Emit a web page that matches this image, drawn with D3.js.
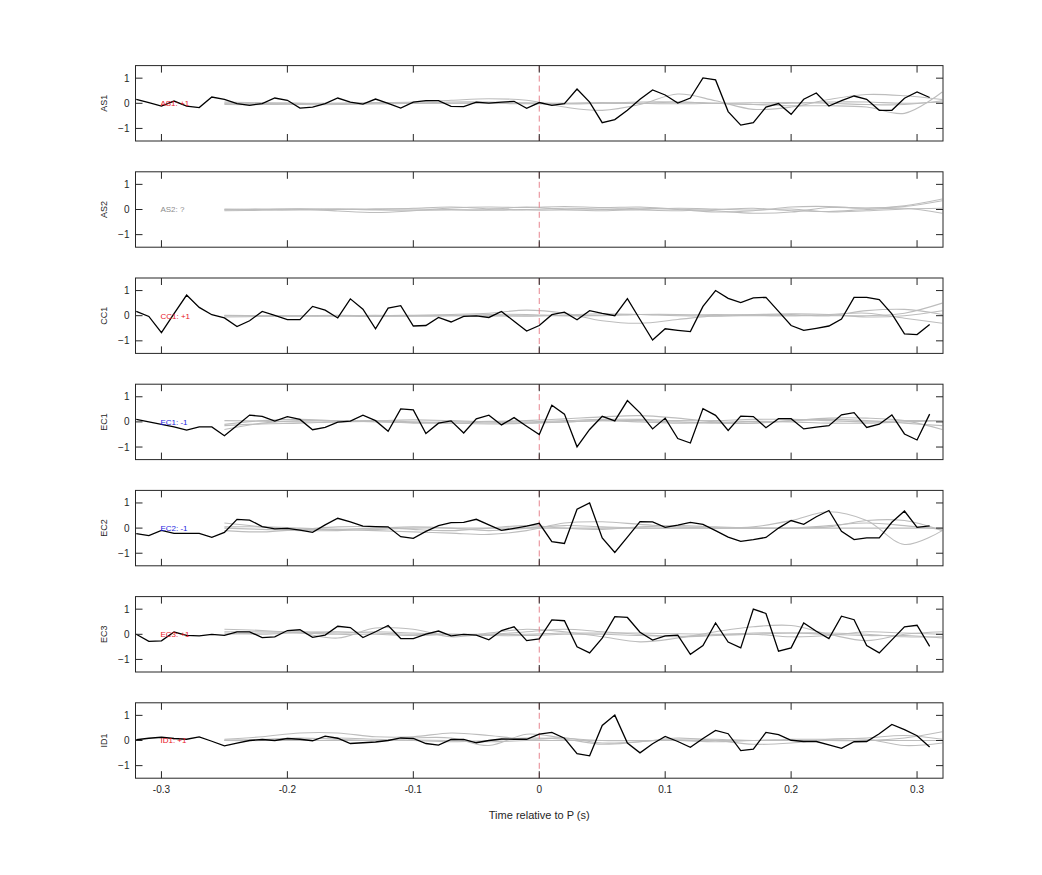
<!DOCTYPE html>
<html>
<head>
<meta charset="utf-8">
<script src="https://cdn.jsdelivr.net/npm/d3@7"></script>
<style>
  html, body { margin: 0; padding: 0; background: #fff; }
  svg { display: block; font-family: "Liberation Sans", Arial, Helvetica, sans-serif; }
</style>
</head>
<body>
<svg id="chart" width="1042" height="875"></svg>
<script>
// ---------------- DATA ----------------
const stations = ["AS1", "AS2", "CC1", "EC1", "EC2", "EC3", "ID1"];
const polarityLabels = ["AS1: +1", "AS2: ?", "CC1: +1", "EC1: -1", "EC2: -1", "EC3: +1", "ID1: +1"];
const polarityColors = ["#e8141e", "#8c8c8c", "#e8141e", "#1a1ae0", "#1a1ae0", "#e8141e", "#e8141e"];

// observed trace sample times (s) : -0.32 ... 0.31 in 0.01 steps
const obsTimes = [-0.32,-0.31,-0.30,-0.29,-0.28,-0.27,-0.26,-0.25,-0.24,-0.23,-0.22,-0.21,-0.20,-0.19,-0.18,-0.17,
  -0.16,-0.15,-0.14,-0.13,-0.12,-0.11,-0.10,-0.09,-0.08,-0.07,-0.06,-0.05,-0.04,-0.03,-0.02,-0.01,
  0.00,0.01,0.02,0.03,0.04,0.05,0.06,0.07,0.08,0.09,0.10,0.11,0.12,0.13,0.14,0.15,
  0.16,0.17,0.18,0.19,0.20,0.21,0.22,0.23,0.24,0.25,0.26,0.27,0.28,0.29,0.30,0.31];

const obsAS1 = [0.16,0.03,-0.11,0.09,-0.11,-0.17,0.25,0.16,-0.01,-0.08,-0.01,0.21,0.12,-0.19,-0.15,-0.01,
  0.21,0.05,-0.03,0.17,0.00,-0.19,0.05,0.11,0.11,-0.12,-0.13,0.05,0.01,0.05,0.08,-0.20,
  0.03,-0.08,-0.01,0.57,0.05,-0.77,-0.65,-0.28,0.16,0.53,0.33,0.01,0.21,1.01,0.93,-0.33,
  -0.87,-0.77,-0.15,-0.01,-0.44,0.16,0.41,-0.11,0.11,0.29,0.16,-0.28,-0.28,0.20,0.45,0.23];
const obsAS2 = null;
const obsCC1 = [0.17,-0.03,-0.67,0.08,0.82,0.33,0.04,-0.09,-0.43,-0.20,0.17,0.01,-0.16,-0.16,0.37,0.22,
  -0.09,0.67,0.26,-0.52,0.30,0.40,-0.41,-0.39,-0.07,-0.25,-0.03,-0.01,-0.07,0.17,-0.22,-0.61,
  -0.39,0.04,0.14,-0.16,0.20,0.09,0.00,0.68,-0.15,-0.97,-0.52,-0.58,-0.63,0.37,1.00,0.69,
  0.52,0.71,0.73,0.17,-0.39,-0.58,-0.50,-0.41,-0.13,0.73,0.73,0.64,0.07,-0.72,-0.75,-0.35];
const obsEC1 = [0.10,0.00,-0.10,-0.20,-0.33,-0.20,-0.20,-0.55,-0.14,0.27,0.22,0.03,0.21,0.10,-0.31,-0.22,
  -0.01,0.03,0.27,0.05,-0.37,0.52,0.48,-0.46,-0.05,0.04,-0.44,0.12,0.27,-0.12,0.17,-0.17,
  -0.50,0.66,0.31,-0.99,-0.30,0.22,0.04,0.85,0.36,-0.28,0.15,-0.66,-0.84,0.53,0.26,-0.34,
  0.23,0.21,-0.23,0.13,0.13,-0.28,-0.21,-0.15,0.28,0.37,-0.22,-0.09,0.28,-0.48,-0.72,0.31];
const obsEC2 = [-0.22,-0.30,-0.09,-0.21,-0.21,-0.21,-0.37,-0.17,0.35,0.32,0.06,-0.03,-0.01,-0.08,-0.17,0.13,
  0.39,0.25,0.08,0.06,0.05,-0.34,-0.41,-0.13,0.10,0.22,0.23,0.35,0.13,-0.09,-0.01,0.08,
  0.19,-0.54,-0.61,0.75,1.00,-0.39,-0.97,-0.36,0.26,0.25,0.03,0.12,0.23,0.15,-0.10,-0.36,
  -0.53,-0.46,-0.37,0.00,0.30,0.15,0.45,0.70,-0.13,-0.46,-0.39,-0.39,0.23,0.68,0.03,0.09];
const obsEC3 = [0.00,-0.28,-0.26,0.09,-0.04,-0.06,0.00,-0.04,0.10,0.10,-0.13,-0.10,0.15,0.18,-0.12,-0.03,
  0.32,0.27,-0.13,0.10,0.35,-0.17,-0.17,0.01,0.13,-0.06,0.00,-0.03,-0.22,0.15,0.30,-0.25,
  -0.18,0.57,0.54,-0.50,-0.74,-0.15,0.70,0.67,0.08,-0.23,-0.06,-0.03,-0.80,-0.45,0.45,-0.31,
  -0.54,1.00,0.83,-0.67,-0.54,0.45,0.12,-0.17,0.72,0.58,-0.45,-0.74,-0.22,0.30,0.36,-0.48];
const obsID1 = [0.03,0.09,0.13,0.08,0.05,0.14,-0.03,-0.21,-0.10,0.00,0.04,0.00,0.08,0.05,-0.01,0.17,
  0.09,-0.12,-0.09,-0.06,0.00,0.10,0.08,-0.12,-0.18,0.04,0.04,-0.09,0.00,0.06,0.05,0.05,
  0.25,0.32,0.09,-0.52,-0.61,0.60,1.01,-0.10,-0.49,-0.13,0.16,-0.04,-0.27,0.08,0.40,0.27,
  -0.40,-0.34,0.32,0.23,0.01,-0.04,-0.04,-0.17,-0.31,-0.05,-0.04,0.27,0.64,0.43,0.19,-0.26];

// synthetic (gray) traces, knot times (s)
const synTimes = [-0.25,-0.22,-0.19,-0.16,-0.13,-0.10,-0.07,-0.04,-0.01,0.02,0.05,0.08,0.11,0.14,0.17,0.20,0.23,0.26,0.29,0.32];

const synAS1 = [
  [0.00,0.00,0.00,0.00,0.02,0.05,0.12,0.18,0.12,-0.15,-0.28,-0.05,0.37,0.10,-0.24,-0.15,0.15,0.35,0.30,0.15],
  [0.00,0.00,-0.05,-0.05,0.00,0.00,0.00,0.02,0.02,0.00,0.00,0.00,0.05,0.00,-0.05,-0.10,-0.10,-0.15,-0.40,0.45],
  [-0.05,-0.05,-0.02,0.00,0.02,0.00,0.05,0.05,0.00,-0.03,0.00,0.05,0.05,0.00,-0.05,0.00,0.05,0.05,0.00,0.05],
  [0.05,0.02,0.00,-0.03,-0.03,0.00,0.00,0.00,-0.02,0.00,0.03,0.00,-0.02,0.00,0.02,0.03,0.00,-0.05,-0.05,0.10]
];
const synAS2 = [
  [0.00,0.00,0.02,-0.06,-0.12,-0.05,0.06,0.10,0.08,0.12,0.08,0.10,0.02,-0.05,-0.15,-0.10,0.08,0.06,0.12,0.35],
  [-0.05,-0.03,0.00,0.02,0.00,0.05,0.10,0.03,-0.02,-0.02,0.00,0.05,0.00,-0.10,-0.05,0.10,0.12,0.05,0.15,0.42],
  [0.02,0.00,-0.02,0.00,0.03,0.02,0.00,-0.03,0.00,0.05,0.02,-0.02,-0.05,0.00,0.05,-0.05,-0.08,0.00,0.05,-0.15],
  [-0.02,0.02,0.03,0.02,-0.02,-0.03,-0.02,0.00,0.10,0.00,-0.05,0.00,0.05,0.02,-0.02,0.02,-0.10,-0.05,0.02,0.05]
];
const synCC1 = [
  [0.00,0.00,0.00,0.00,0.00,0.02,0.05,0.10,0.22,0.10,-0.20,-0.30,-0.15,0.00,0.05,0.05,0.00,0.20,0.25,0.05],
  [0.00,0.00,-0.02,0.00,0.02,0.00,0.00,0.00,0.00,0.00,0.00,0.05,0.05,0.00,0.00,0.00,0.00,0.00,0.10,0.50],
  [-0.05,-0.03,0.00,0.02,0.00,-0.02,0.00,0.05,0.05,0.00,0.02,0.05,0.03,0.05,0.02,0.00,0.05,0.10,-0.10,-0.30],
  [0.02,0.00,0.00,-0.02,-0.03,0.00,0.02,0.00,-0.02,0.03,0.08,0.05,0.00,-0.02,0.03,0.08,0.05,-0.05,0.00,0.20]
];
const synEC1 = [
  [-0.30,-0.05,0.05,0.05,0.00,-0.02,0.00,0.02,0.05,0.12,0.20,0.25,0.15,0.00,-0.05,0.05,0.15,0.15,0.05,-0.30],
  [-0.10,0.05,0.10,0.05,0.05,0.08,0.05,0.00,-0.05,0.00,0.05,0.05,0.00,-0.05,-0.05,0.05,0.10,0.05,-0.05,-0.15],
  [0.05,0.03,0.00,0.00,0.05,0.00,-0.05,0.00,0.00,0.05,0.10,0.10,0.05,0.05,0.10,0.10,0.05,0.00,0.05,0.05],
  [-0.15,-0.08,-0.05,0.00,0.02,-0.05,-0.05,-0.08,-0.05,0.00,0.05,0.00,-0.05,-0.02,0.02,0.00,-0.05,-0.05,0.00,0.05]
];
const synEC2 = [
  [0.20,0.05,-0.05,-0.05,0.00,0.05,0.00,-0.10,0.00,0.10,0.05,0.00,0.00,0.00,0.05,0.30,0.65,0.30,-0.65,-0.10],
  [0.05,0.05,0.00,-0.05,-0.10,-0.15,-0.20,-0.25,-0.10,0.20,0.25,0.15,0.05,0.00,0.00,0.00,0.05,0.30,0.30,-0.10],
  [-0.10,-0.15,-0.05,0.05,0.05,-0.05,-0.10,0.00,0.10,0.00,-0.05,0.05,0.10,0.05,0.00,0.00,0.10,0.20,0.10,-0.05],
  [0.00,-0.05,-0.10,-0.10,-0.05,0.00,0.00,0.00,0.00,0.00,0.00,0.00,0.00,0.00,0.00,0.00,0.00,0.00,0.00,0.00]
];
const synEC3 = [
  [0.20,0.15,0.05,-0.15,0.25,0.20,-0.10,0.05,0.20,0.10,-0.10,-0.30,-0.15,0.10,0.30,0.35,0.00,-0.25,0.00,0.10],
  [0.10,0.10,0.10,0.05,0.10,0.05,0.00,0.00,0.10,0.20,0.10,0.00,-0.10,-0.05,0.00,0.05,0.05,0.00,-0.10,-0.10],
  [0.00,0.05,0.05,0.00,0.00,-0.05,0.00,0.00,0.00,0.05,0.05,0.05,0.02,0.00,0.00,-0.10,-0.05,0.10,0.05,0.00],
  [0.05,0.00,0.08,0.10,0.05,0.00,0.00,-0.05,-0.05,0.00,0.00,-0.05,-0.08,-0.02,0.05,0.05,0.00,-0.05,-0.05,-0.15]
];
const synID1 = [
  [0.05,0.15,0.30,0.30,0.15,0.15,0.30,0.20,0.05,0.10,-0.10,-0.05,0.10,0.00,-0.15,-0.10,0.05,0.05,-0.20,-0.10],
  [0.00,0.05,0.10,0.05,0.00,0.10,0.10,-0.20,0.25,0.10,0.00,0.00,0.00,-0.05,0.00,0.00,0.00,0.00,0.10,0.35],
  [0.00,0.00,0.05,0.10,0.05,0.00,-0.05,0.00,0.10,0.05,-0.15,-0.05,0.05,0.05,0.00,0.05,0.05,0.10,0.20,0.05],
  [0.02,0.00,0.00,0.00,0.00,0.02,0.00,-0.05,0.00,0.00,0.00,0.00,0.00,0.00,0.00,0.00,0.00,0.00,0.00,0.00]
];

const observed = [obsAS1, obsAS2, obsCC1, obsEC1, obsEC2, obsEC3, obsID1];
const synthetic = [synAS1, synAS2, synCC1, synEC1, synEC2, synEC3, synID1];

const xTicks = [-0.3, -0.2, -0.1, 0, 0.1, 0.2, 0.3];
const xTickLabels = ["-0.3", "-0.2", "-0.1", "0", "0.1", "0.2", "0.3"];
const yTicks = [-1, 0, 1];
const xDomain = [-0.3206, 0.3206];
const yDomain = [-1.5, 1.5];
const xLabel = "Time relative to P (s)";

// ---------------- LAYOUT ----------------
const svg = d3.select("#chart");
const left = 135.5, right = 943;
const firstTop = 65.6, panelStep = 106.2, panelH = 75.4;
const tickLen = 7;
const axisColor = "#262626";

const x = d3.scaleLinear().domain(xDomain).range([left, right]);

stations.forEach((st, i) => {
  const top = firstTop + i * panelStep;
  const y = d3.scaleLinear().domain(yDomain).range([top + panelH, top]);
  const g = svg.append("g");

  const clipId = "clip" + i;
  svg.append("clipPath").attr("id", clipId)
    .append("rect").attr("x", left).attr("y", top).attr("width", right - left).attr("height", panelH);
  const plot = g.append("g").attr("clip-path", `url(#${clipId})`);

  // synthetic gray traces
  const synLine = d3.line()
    .x((d, k) => x(synTimes[k]))
    .y(d => y(d))
    .curve(d3.curveCatmullRom.alpha(0.5));
  synthetic[i].forEach(s => {
    plot.append("path").attr("d", synLine(s))
      .attr("fill", "none").attr("stroke", "#bdbdbd").attr("stroke-width", 1.1);
  });

  // dashed line at P arrival
  plot.append("line")
    .attr("x1", x(0)).attr("x2", x(0))
    .attr("y1", top).attr("y2", top + panelH)
    .attr("stroke", "#e6848e").attr("stroke-width", 1)
    .attr("stroke-dasharray", "6,4");

  // observed trace
  if (observed[i]) {
    const obsLine = d3.line().x((d, k) => x(obsTimes[k])).y(d => y(d));
    plot.append("path").attr("d", obsLine(observed[i]))
      .attr("fill", "none").attr("stroke", "#000").attr("stroke-width", 1.3)
      .attr("stroke-linejoin", "miter");
  }

  // polarity label
  g.append("text")
    .attr("x", x(-0.3) - 1).attr("y", y(0))
    .attr("dy", "0.35em")
    .attr("font-size", 8)
    .attr("fill", polarityColors[i])
    .text(polarityLabels[i]);

  // ticks (inward, both sides)
  xTicks.forEach(t => {
    g.append("line").attr("x1", x(t)).attr("x2", x(t))
      .attr("y1", top + panelH).attr("y2", top + panelH - tickLen)
      .attr("stroke", axisColor).attr("stroke-width", 1);
    g.append("line").attr("x1", x(t)).attr("x2", x(t))
      .attr("y1", top).attr("y2", top + tickLen)
      .attr("stroke", axisColor).attr("stroke-width", 1);
  });
  yTicks.forEach(t => {
    g.append("line").attr("x1", left).attr("x2", left + tickLen)
      .attr("y1", y(t)).attr("y2", y(t))
      .attr("stroke", axisColor).attr("stroke-width", 1);
    g.append("line").attr("x1", right).attr("x2", right - tickLen)
      .attr("y1", y(t)).attr("y2", y(t))
      .attr("stroke", axisColor).attr("stroke-width", 1);
    g.append("text")
      .attr("x", left - 6).attr("y", y(t)).attr("dy", "0.35em")
      .attr("text-anchor", "end").attr("font-size", 10).attr("fill", axisColor)
      .text(d3.format("d")(t));
  });

  // box
  g.append("rect").attr("x", left).attr("y", top)
    .attr("width", right - left).attr("height", panelH)
    .attr("fill", "none").attr("stroke", axisColor).attr("stroke-width", 1);

  // station label
  g.append("text")
    .attr("transform", `translate(${left - 29},${top + panelH / 2}) rotate(-90)`)
    .attr("text-anchor", "middle").attr("font-size", 9).attr("fill", axisColor)
    .text(st);

  // x tick labels on last panel
  if (i === stations.length - 1) {
    xTicks.forEach((t, k) => {
      g.append("text")
        .attr("x", x(t)).attr("y", top + panelH + 15)
        .attr("text-anchor", "middle").attr("font-size", 10).attr("fill", axisColor)
        .text(xTickLabels[k]);
    });
    g.append("text")
      .attr("x", (left + right) / 2).attr("y", top + panelH + 41)
      .attr("text-anchor", "middle").attr("font-size", 11).attr("fill", axisColor)
      .text(xLabel);
  }
});
</script>
</body>
</html>
